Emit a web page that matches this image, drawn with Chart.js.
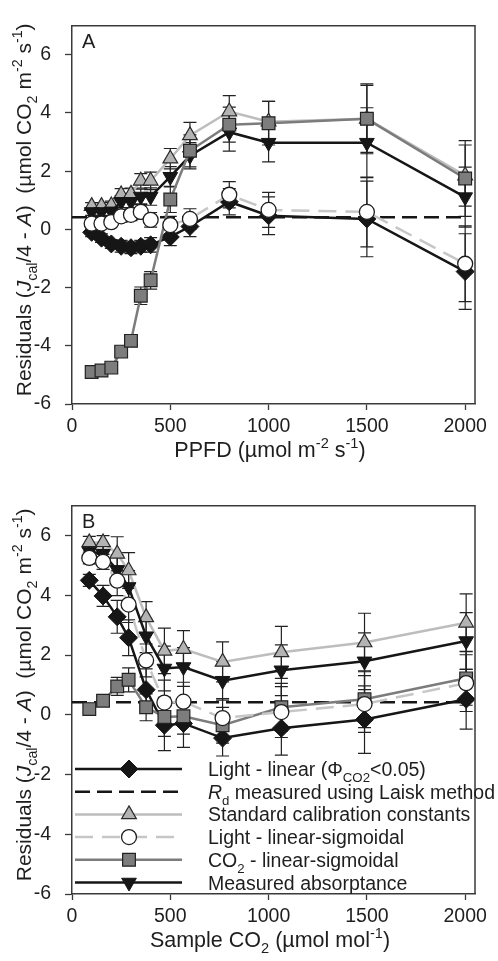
<!DOCTYPE html>
<html>
<head>
<meta charset="utf-8">
<script src="https://cdn.jsdelivr.net/npm/chart.js@4.4.1/dist/chart.umd.min.js"></script>
<style>
  html, body { margin: 0; padding: 0; background: #fff; }
  #wrap { position: relative; width: 498px; height: 961px; }
  #wrap canvas { position: absolute; left: 0; }
</style>
</head>
<body>
<div id="wrap">
  <canvas id="chartA" width="498" height="480" style="top:0"></canvas>
  <canvas id="chartB" width="498" height="481" style="top:480px"></canvas>
</div>
<script>
// ---- data ----
const xTicks = [0, 500, 1000, 1500, 2000];
const yTicks = [-6, -4, -2, 0, 2, 4, 6];
const rdValue = 0.42;
const rdRange = [0, 2000];

// panel A: PPFD
const ppfd = [100, 150, 200, 250, 300, 350, 400, 500, 600, 800, 1000, 1500, 2000];
const aLinear = [-0.1, -0.3, -0.5, -0.58, -0.63, -0.58, -0.53, -0.26, 0.1, 0.95, 0.47, 0.36, -1.45];
const aStd = [0.8, 0.8, 0.82, 1.2, 1.22, 1.67, 1.67, 2.43, 3.23, 4.05, 3.7, 3.8, 1.85];
const aSig = [0.2, 0.2, 0.25, 0.45, 0.5, 0.6, 0.33, 0.15, 0.36, 1.19, 0.67, 0.6, -1.18];
const aCO2 = [-4.9, -4.85, -4.75, -4.2, -3.83, -2.28, -1.75, 1.03, 2.7, 3.6, 3.65, 3.8, 1.75];
const aAbs = [0.6, 0.6, 0.62, 0.95, 0.95, 1.13, 1.13, 1.81, 2.53, 3.34, 2.98, 2.98, 1.11];
const aLinearErr = [0.15, 0.15, 0.15, 0.2, 0.2, 0.2, 0.25, 0.3, 0.35, 0.45, 0.65, 1.3, 1.3];
const aStdErr = [0.12, 0.12, 0.15, 0.2, 0.2, 0.25, 0.3, 0.35, 0.45, 0.55, 0.7, 1.2, 1.05];
const aSigErr = [0.12, 0.12, 0.15, 0.2, 0.2, 0.25, 0.25, 0.3, 0.35, 0.45, 0.6, 1.2, 1.3];
const aCO2Err = [0.08, 0.08, 0.1, 0.12, 0.12, 0.3, 0.3, 0.45, 0.55, 0.6, 0.75, 1.15, 1.3];
const aAbsErr = [0.12, 0.12, 0.15, 0.2, 0.2, 0.25, 0.3, 0.35, 0.45, 0.65, 0.66, 1.2, 1.03];

// panel B: sample CO2
const co2 = [88, 158, 230, 288, 377, 470, 567, 766, 1065, 1488, 2005];
const bLinear = [4.5, 3.98, 3.28, 2.58, 0.84, -0.35, -0.29, -0.78, -0.45, -0.16, 0.52];
const bStd = [5.77, 5.77, 5.39, 4.83, 3.26, 2.14, 2.2, 1.77, 2.09, 2.42, 3.08];
const bSig = [5.25, 5.12, 4.49, 3.69, 1.82, 0.41, 0.44, -0.11, 0.09, 0.36, 1.06];
const bCO2 = [0.19, 0.47, 0.95, 1.17, 0.25, -0.07, -0.05, -0.35, 0.25, 0.52, 1.22];
const bAbs = [5.47, 5.39, 4.85, 4.28, 2.63, 1.55, 1.6, 1.14, 1.49, 1.79, 2.47];
const bLinearErr = [0.2, 0.35, 0.55, 0.6, 0.7, 0.85, 0.8, 0.6, 0.9, 1.13, 1.0];
const bStdErr = [0.2, 0.23, 0.57, 0.6, 0.53, 0.76, 0.62, 0.67, 0.87, 0.98, 0.97];
const bSigErr = [0.2, 0.25, 0.5, 0.6, 0.55, 0.75, 0.65, 0.65, 0.85, 0.95, 0.95];
const bCO2Err = [0.1, 0.15, 0.3, 0.4, 0.45, 0.65, 0.6, 0.6, 0.8, 0.95, 0.9];
const bAbsErr = [0.2, 0.25, 0.5, 0.55, 0.55, 0.75, 0.65, 0.65, 0.85, 0.95, 0.95];

const FONT = '"Liberation Sans", Arial, Helvetica, sans-serif';
const INK = '#1e1e1e';

// draw text made of pieces (sub / sup / italic)
function rich(ctx, segs, x, y, size, align) {
  const parts = segs.map(s => {
    const small = s.sub || s.sup;
    const fs = small ? size * 0.68 : size;
    const font = (s.it ? 'italic ' : '') + fs + 'px ' + FONT;
    ctx.font = font;
    return { t: s.t, font, w: ctx.measureText(s.t).width,
      dy: s.sub ? size * 0.3 : (s.sup ? -size * 0.42 : 0) };
  });
  const total = parts.reduce((a, p) => a + p.w, 0);
  let cx = align === 'center' ? x - total / 2 : x;
  ctx.textAlign = 'left';
  ctx.textBaseline = 'alphabetic';
  parts.forEach(p => {
    ctx.font = p.font;
    ctx.fillText(p.t, cx, y + p.dy);
    cx += p.w;
  });
}

const yTitle = [
  { t: 'Residuals (' }, { t: 'J', it: true }, { t: 'cal', sub: true },
  { t: '/4 - ' }, { t: 'A', it: true }, { t: ')  (\u00b5mol CO' }, { t: '2', sub: true },
  { t: ' m' }, { t: '-2', sup: true }, { t: ' s' }, { t: '-1', sup: true }, { t: ')' }
];

const legendRows = [
  [{ t: 'Light - linear (\u03a6' }, { t: 'CO2', sub: true }, { t: '<0.05)' }],
  [{ t: 'R', it: true }, { t: 'd', sub: true }, { t: ' measured using Laisk method' }],
  [{ t: 'Standard calibration constants' }],
  [{ t: 'Light - linear-sigmoidal' }],
  [{ t: 'CO' }, { t: '2', sub: true }, { t: ' - linear-sigmoidal' }],
  [{ t: 'Measured absorptance' }]
];

function pts(xs, ys) { return xs.map((x, i) => ({ x, y: ys[i] })); }

function makeDatasets(xs, lin, linE, std, stdE, sig, sigE, c2, c2E, abs, absE) {
  return [
    { label: 'Light - linear', data: pts(xs, lin), errors: linE, order: 5,
      borderColor: '#161616', borderWidth: 2.5, pointStyle: 'rectRot', pointRadius: 9,
      pointBackgroundColor: '#161616', pointBorderColor: '#161616', pointBorderWidth: 1 },
    { label: 'Rd', data: pts(rdRange, [rdValue, rdValue]), order: 6,
      borderColor: '#161616', borderWidth: 2.6, borderDash: [15, 7], pointRadius: 0 },
    { label: 'Standard', data: pts(xs, std), errors: stdE, order: 4,
      borderColor: '#bdbdbd', borderWidth: 2.5, pointStyle: 'triangle', pointRadius: 8.5,
      pointBackgroundColor: '#b3b3b3', pointBorderColor: '#2a2a2a', pointBorderWidth: 1.2 },
    { label: 'Light - linear-sigmoidal', data: pts(xs, sig), errors: sigE, order: 1,
      borderColor: '#c6c6c6', borderWidth: 2.5, borderDash: [18, 9], pointStyle: 'circle', pointRadius: 7.5,
      pointBackgroundColor: '#ffffff', pointBorderColor: '#1e1e1e', pointBorderWidth: 1.3 },
    { label: 'CO2 - linear-sigmoidal', data: pts(xs, c2), errors: c2E, order: 2,
      borderColor: '#7c7c7c', borderWidth: 2.5, pointStyle: 'rect', pointRadius: 9,
      pointBackgroundColor: '#7d7d7d', pointBorderColor: '#222', pointBorderWidth: 1.2 },
    { label: 'Measured absorptance', data: pts(xs, abs), errors: absE, order: 3,
      borderColor: '#161616', borderWidth: 2.5, pointStyle: 'triangle', pointRotation: 180, pointRadius: 8.5,
      pointBackgroundColor: '#161616', pointBorderColor: '#161616', pointBorderWidth: 1 }
  ];
}

const errorBars = {
  id: 'errorBars',
  beforeDatasetsDraw(chart) {
    const { ctx } = chart;
    const y = chart.scales.y;
    ctx.save();
    ctx.strokeStyle = '#222';
    ctx.lineWidth = 1.2;
    chart.data.datasets.forEach((ds, i) => {
      if (!ds.errors) return;
      const meta = chart.getDatasetMeta(i);
      meta.data.forEach((pt, j) => {
        const v = ds.data[j].y, e = ds.errors[j];
        const top = y.getPixelForValue(v + e), bot = y.getPixelForValue(v - e);
        ctx.beginPath();
        ctx.moveTo(pt.x, top); ctx.lineTo(pt.x, bot);
        ctx.moveTo(pt.x - 6.5, top); ctx.lineTo(pt.x + 6.5, top);
        ctx.moveTo(pt.x - 6.5, bot); ctx.lineTo(pt.x + 6.5, bot);
        ctx.stroke();
      });
    });
    ctx.restore();
  }
};

const frame = {
  id: 'frame',
  afterDraw(chart, args, opts) {
    const { ctx, chartArea: a } = chart;
    ctx.save();
    ctx.strokeStyle = '#3a3a3a';
    ctx.lineWidth = 1.5;
    ctx.beginPath();
    ctx.moveTo(a.left, a.top); ctx.lineTo(a.right, a.top); ctx.lineTo(a.right, a.bottom);
    ctx.stroke();
    ctx.fillStyle = INK;
    // panel letter
    ctx.font = '20px ' + FONT;
    ctx.textBaseline = 'alphabetic';
    ctx.textAlign = 'left';
    ctx.fillText(opts.letter, a.left + 10, a.top + 22);
    // x title
    rich(ctx, opts.xTitle, 270, opts.xTitleY, 21.5, 'center');
    // y title, rotated
    ctx.translate(31, (a.top + a.bottom) / 2 - 5);
    ctx.rotate(-Math.PI / 2);
    rich(ctx, yTitle, 0, 0, 21, 'center');
    ctx.restore();
  }
};

const legendPlugin = {
  id: 'customLegend',
  afterDraw(chart, args, opts) {
    if (!opts.show) return;
    const { ctx } = chart;
    ctx.save();
    chart.data.datasets.forEach((ds, i) => {
      const cy = opts.top + i * opts.step;
      ctx.strokeStyle = ds.borderColor;
      ctx.lineWidth = ds.borderWidth;
      ctx.setLineDash(ds.borderDash || []);
      ctx.beginPath();
      ctx.moveTo(75, cy); ctx.lineTo(182, cy);
      ctx.stroke();
      ctx.setLineDash([]);
      if (ds.pointRadius) {
        ctx.fillStyle = ds.pointBackgroundColor;
        ctx.strokeStyle = ds.pointBorderColor;
        ctx.lineWidth = ds.pointBorderWidth;
        Chart.helpers.drawPoint(ctx, {
          pointStyle: ds.pointStyle, rotation: ds.pointRotation || 0,
          radius: ds.pointRadius, borderWidth: ds.pointBorderWidth
        }, 129, cy);
      }
      ctx.fillStyle = INK;
      rich(ctx, legendRows[i], 208, cy + 7, 19.5, 'left');
    });
    ctx.restore();
  }
};

function scales(xHeight) {
  return {
    x: {
      type: 'linear', min: 0, max: 2050,
      afterBuildTicks: s => { s.ticks = xTicks.map(v => ({ value: v })); },
      afterFit: s => { s.height = xHeight; },
      grid: { drawOnChartArea: false, tickLength: 6, tickColor: '#3a3a3a', tickWidth: 1.3 },
      border: { color: '#3a3a3a', width: 1.5 },
      ticks: { color: INK, font: { family: FONT, size: 19.5 }, padding: 5, maxRotation: 0,
        callback: v => String(v) }
    },
    y: {
      type: 'linear', min: -6, max: 7,
      afterBuildTicks: s => { s.ticks = yTicks.map(v => ({ value: v })); },
      afterFit: s => { s.width = 72; },
      grid: { drawOnChartArea: false, tickLength: 7, tickColor: '#3a3a3a', tickWidth: 1.3 },
      border: { color: '#3a3a3a', width: 1.5 },
      ticks: { color: INK, font: { family: FONT, size: 19.5 }, padding: 14,
        callback: v => String(v) }
    }
  };
}

function makeChart(id, datasets, cfg) {
  return new Chart(document.getElementById(id), {
    type: 'line',
    data: { datasets },
    options: {
      responsive: false,
      animation: false,
      layout: { padding: { left: 0, right: 23, top: cfg.top, bottom: 0 } },
      scales: scales(cfg.xHeight),
      plugins: {
        legend: { display: false },
        tooltip: { enabled: false },
        frame: { letter: cfg.letter, xTitle: cfg.xTitle, xTitleY: cfg.xTitleY },
        customLegend: { show: cfg.legend, top: 289, step: 22.7 }
      }
    },
    plugins: [errorBars, frame, legendPlugin]
  });
}

makeChart('chartA',
  makeDatasets(ppfd, aLinear, aLinearErr, aStd, aStdErr, aSig, aSigErr, aCO2, aCO2Err, aAbs, aAbsErr),
  { top: 2, xHeight: 76, letter: 'A', xTitleY: 457, legend: false,
    xTitle: [{ t: 'PPFD (\u00b5mol m' }, { t: '-2', sup: true }, { t: ' s' }, { t: '-1', sup: true }, { t: ')' }] });

makeChart('chartB',
  makeDatasets(co2, bLinear, bLinearErr, bStd, bStdErr, bSig, bSigErr, bCO2, bCO2Err, bAbs, bAbsErr),
  { top: 12, xHeight: 67, letter: 'B', xTitleY: 467, legend: true,
    xTitle: [{ t: 'Sample CO' }, { t: '2', sub: true }, { t: ' (\u00b5mol mol' }, { t: '-1', sup: true }, { t: ')' }] });
</script>
</body>
</html>
